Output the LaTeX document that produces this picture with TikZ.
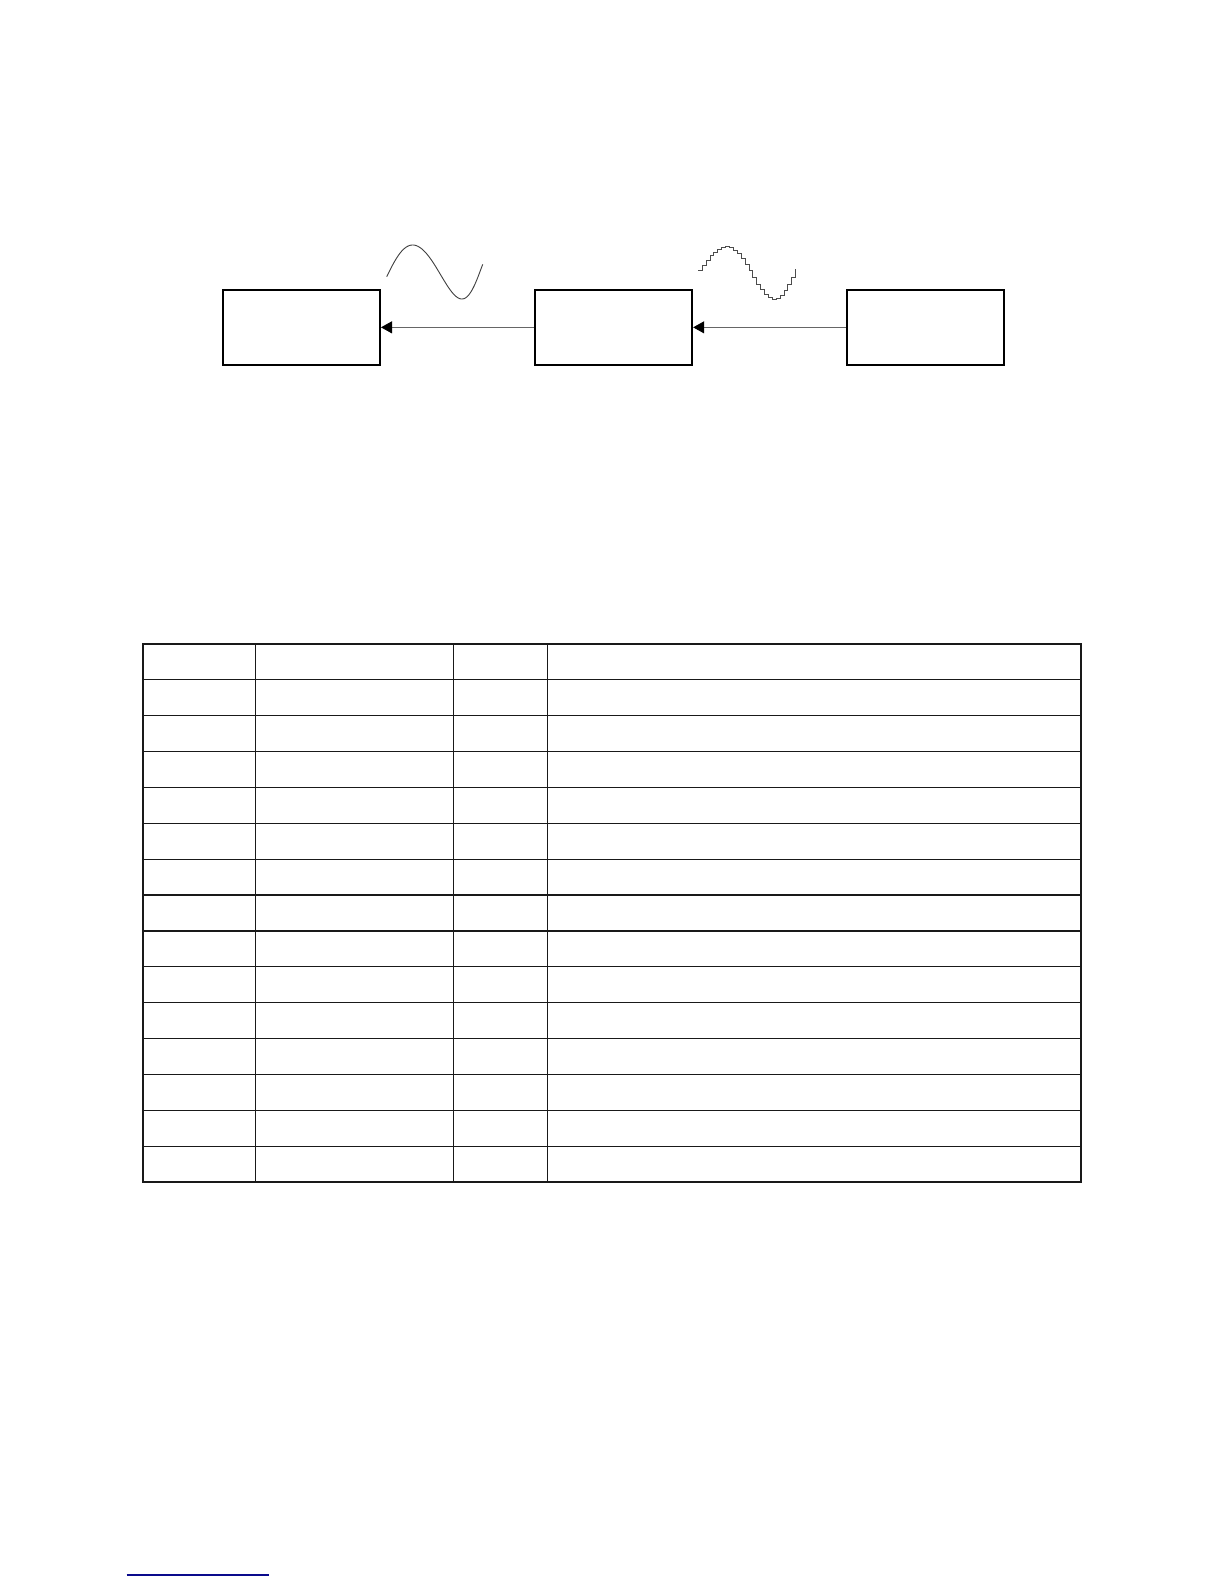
\documentclass[tikz,border=0pt]{standalone}
\usetikzlibrary{arrows.meta}
\definecolor{navyline}{RGB}{10,10,140}
\begin{document}
\begin{tikzpicture}[x=1pt,y=-1pt,
  blockbox/.style={draw=black, line width=2.3pt, minimum width=157pt, minimum height=75pt, inner sep=0pt},
  signal/.style={draw=black!60, line width=1pt, -{Triangle[length=11pt,width=12pt,color=black]}},
  wave/.style={draw=black!75, line width=0.9pt},
  stairs/.style={draw=black!70, line width=0.9pt},
  outer/.style={line width=2.3pt, draw=black!90},
  inner/.style={line width=1.2pt, draw=black!90},
  footline/.style={line width=1.2pt, draw=navyline}]
\useasboundingbox (0,0) rectangle (1224,1584);
\fill[white] (0,0) rectangle (1224,1584);

% blocks
\node[blockbox] (b1) at (301.35,327.35) {};
\node[blockbox] (b2) at (613.5,327.35) {};
\node[blockbox] (b3) at (925.35,327.35) {};

% connectors
\draw[signal] (b2.west) -- (b1.east);
\draw[signal] (b3.west) -- (b2.east);

% smooth sine
\draw[wave] plot[domain=0:96, samples=90, smooth]
  ({386.7+\x},{272-27*sin(-10+4.392*\x-0.02723*\x*\x+0.0002398*\x*\x*\x)});

% stepped sine
\draw[stairs] plot[const plot, domain=0:97.4, samples=26]
  ({698.3+\x},{272.9-26.1*sin(5+2.978*\x+0.007686*\x*\x)});

% table
\foreach \i in {1,...,14} {
  \draw[inner] (143,{643.7+35.9*\i}) -- (1081,{643.7+35.9*\i});
}
\foreach \cx in {255.6,453.4,547.4} {
  \draw[inner] (\cx,643.7) -- (\cx,1182.3);
}
\draw[outer] (143,643.7) rectangle (1081,1182.3);

% footnote rule
\coordinate (fa) at (126.7,1575);
\coordinate (fb) at (269,1575);
\draw[footline] (fa) -- (fb);
\end{tikzpicture}
\end{document}
